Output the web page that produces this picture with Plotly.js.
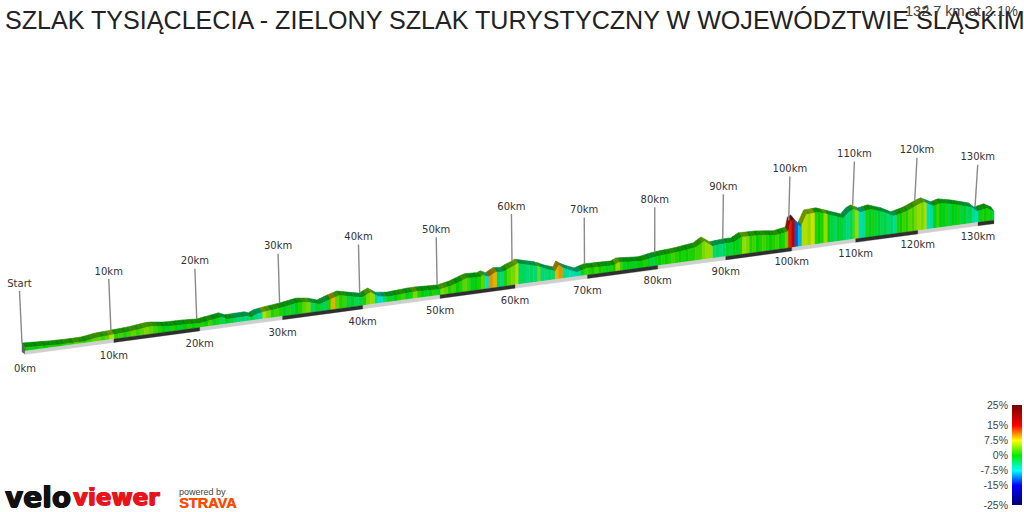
<!DOCTYPE html>
<html><head><meta charset="utf-8">
<script src="https://cdn.plot.ly/plotly-3.0.1.min.js"></script>
<style>html,body{margin:0;padding:0;background:#fff}#c{width:1024px;height:512px}</style>
</head><body><div id="c"></div>
<script>
const chartTitle = "SZLAK TYSIĄCLECIA - ZIELONY SZLAK TURYSTYCZNY W WOJEWÓDZTWIE ŚLĄSKIM";
const summary = "132.7 km at 2.1%";
const totalKm = 132.7;
const markerKm = [0,10,20,30,40,50,60,70,80,90,100,110,120,130];
const markerElev = [5,5.9,5.4,10.2,9.4,7,20.9,8.3,10,14.5,24,31,27,12.5];
// elevation profile (km along route, relative height)
const nodeKm = [0,2.9,4.8,6.7,8.1,10,11.9,14.2,16.2,18.2,20,22.6,23.3,25.7,26.2,26.8,28,30,32,33.4,34.6,35.9,37.1,38.4,39.9,41,42,43.4,46,47,50,51.4,53.6,55.3,55.7,56.4,57.4,58.4,59,60,60.3,63.2,64.3,65.6,66,66.7,68.5,69.9,73.7,74.4,77.6,79.9,82.8,85.6,86.8,88,90,91.2,92.3,95,97.6,99.5,99.8,100.3,100.9,101.4,102.3,104.2,106.8,108.1,108.9,109.7,110.8,112.4,114.5,116.1,118.2,120.2,121,122.6,123.8,125.9,128.9,129.8,131.5,132.7];
const nodeElev = [5,3.5,3,3,5,5.9,6.7,9,6.7,6.4,5.4,8.7,5.9,6.2,4.6,7,8.5,10.2,12.9,11.5,8.2,11.8,14.5,12.1,9.4,13.3,8.1,6.6,7.9,8,7,8.9,14.6,13.9,15.4,12.8,16.8,15.9,18.2,20.9,22.4,16.7,12.7,9.5,15,11.4,5.6,8.3,7.6,9.9,8,10.8,12.1,14.5,19.5,13.4,14.5,14.4,18.5,18,15.8,18,27.7,29.3,23.8,20.4,32.6,33,26.7,23.6,29,31.3,27.3,29,24.2,18.9,22.1,27.5,28.8,23.5,25.5,22.7,17.3,12.5,14.3,10.2];
// gradient (%) of each half-kilometre strip of the wall
const stripGrades = [
 0,0.5,0,1,0,0.5,1,0,1,2,1,3,2,1,2,3,3,2,3,6,
 1,2,1,2,3,2,3,4,3,2,1,0,-1,1,0,-1,0,1,0,1,
 1,0,2,-1,1,-3,0,-2,-3,-4,-3,-4,-2,-4,-5,6,4,1,2,1,
 -1,1,-2,0,1,3,4,-3,-1,-2,-3,1,9,3,1,2,-2,-1,-3,-2,
 1,4,5,-5,-7,-4,1,-2,0,1,2,-1,1,4,1,0,-1,0,1,-1,
 4,3,1,2,0,1,3,2,-1,0,1,3,-7,10,9,-3,-4,1,3,4,
 6,-3,-3,-4,-3,-4,4,-4,-4,-3,-4,9,10,-5,-5,-6,-5,-5,-1,2,
 1,0,2,0,1,-1,1,0,5,2,-1,0,-1,-1,0,0,1,-1,-2,-1,
 0,1,0,1,2,1,0,1,0,1,1,2,2,4,5,5,-4,-3,-4,-3,
 -1,-2,0,-1,1,5,4,1,2,0,1,2,1,0,1,2,0,1,3,14,
 18,-12,-9,6,6,5,7,1,0,1,5,-1,-2,-3,-1,-2,-3,-4,-3,3,
 5,-6,-5,1,-1,1,-2,-1,-3,-2,-4,-3,-5,1,0,2,1,3,2,4,
 5,4,6,-6,-5,-1,2,0,-1,1,-2,0,-1,1,-2,-1,-3,-2,-5,-6,
 -1,1,0,1,-1,-2];
const legendValues = [-25,-15,-7.5,0,7.5,15,25];
const legendColors = [[0,0,110],[0,0,255],[0,255,255],[0,235,0],[255,255,0],[255,0,0],[120,0,0]];
const legendLabels = ["-25%","-15%","-7.5%","0%","7.5%","15%","25%"];

// perspective projection of the route onto the page
const scaleAt = k => 1/(1+0.0018054*k);
const px = k => 25 + 9.0513*k*scaleAt(k);
const py = k => 351 - 0.135*(px(k)-25);
const elevAt = k => {
  let i = 0;
  while (i < nodeKm.length-2 && nodeKm[i+1] < k) i++;
  const t = (k-nodeKm[i])/(nodeKm[i+1]-nodeKm[i]);
  return nodeElev[i]+t*(nodeElev[i+1]-nodeElev[i]);
};
const colorOf = g => {
  let i = 0;
  while (i < legendValues.length-2 && legendValues[i+1] < g) i++;
  const t = (g-legendValues[i])/(legendValues[i+1]-legendValues[i]);
  return legendColors[i].map((c,j)=>c+t*(legendColors[i+1][j]-c));
};
const css = (c,f) => `rgb(${c.map(v=>Math.round(v*f)).join(",")})`;

const backX = 3, backY = 4.5, ribbonDrop = 1.5;
const wallTop = k => py(k)-Math.max(elevAt(k)-ribbonDrop,0.5);
const wallGroups = new Map(), ridgeGroups = new Map();
const push = (m,key,xs,ys) => {
  if(!m.has(key)) m.set(key,{x:[],y:[]});
  const g = m.get(key);
  g.x.push(...xs,xs[0],null); g.y.push(...ys,ys[0],null);
};
stripGrades.forEach((g,i)=>{
  const a = i*0.5, b = Math.min((i+1)*0.5,totalKm);
  const edges = [a,...nodeKm.filter(k=>k>a&&k<b),b];
  const c = colorOf(g);
  const tx = edges.map(px), ty = edges.map(wallTop);
  push(wallGroups,css(c,0.88),
    [px(a),px(b),...tx.slice().reverse()],
    [py(a),py(b),...ty.slice().reverse()]);
  const rc = c.map((v,j)=> j===1 ? v*0.58 : v*0.52);
  push(ridgeGroups,css(rc,1),
    [...tx,...tx.slice().reverse().map(x=>x-backX)],
    [...ty,...ty.slice().reverse().map(y=>y-backY)]);
});
const traces = [];
const addGroup = m => m.forEach((g,color)=>traces.push({type:"scatter",mode:"lines",x:g.x,y:g.y,fill:"toself",fillcolor:color,
  line:{color:color,width:0.6},hoverinfo:"skip",showlegend:false}));
addGroup(ridgeGroups);
addGroup(wallGroups);

// start cap
const capTop = wallTop(0);
traces.push({type:"scatter",mode:"lines",x:[px(0),px(0),px(0)-backX,px(0)-backX,px(0)],y:[capTop,py(0)+3,py(0)+1,capTop-backY,capTop],
  fill:"toself",fillcolor:"#566a56",line:{color:"#566a56",width:0.5},hoverinfo:"skip",showlegend:false});

// kilometre band
const band = {light:{x:[],y:[]},dark:{x:[],y:[]}};
const bandH = 3.5;
markerKm.forEach((k,i)=>{
  const e = Math.min(k+10,totalKm), t = i%2 ? band.dark : band.light;
  t.x.push(px(k),px(e),px(e),px(k),px(k),null);
  t.y.push(py(k),py(e),py(e)+bandH,py(k)+bandH,py(k),null);
});
traces.push({type:"scatter",mode:"lines",...band.light,fill:"toself",fillcolor:"#cfcfcf",line:{color:"#cfcfcf",width:0.3},hoverinfo:"skip",showlegend:false});
traces.push({type:"scatter",mode:"lines",...band.dark,fill:"toself",fillcolor:"#2e2e2e",line:{color:"#2e2e2e",width:0.3},hoverinfo:"skip",showlegend:false});

// poles and labels
const poles = {x:[],y:[]}, upper = {x:[],y:[],text:[]}, lower = {x:[],y:[],text:[]};
markerKm.forEach((k,i)=>{
  const bx = px(k)-backX, by = py(k)-markerElev[i]-3;
  const len = 52*scaleAt(k);
  const d = px(k)-654;
  const tx = bx+d*(d<0?0.004:0.0085), ty = by-len;
  poles.x.push(bx,tx,null); poles.y.push(by,ty,null);
  upper.x.push(tx); upper.y.push(ty-7); upper.text.push(k===0?"Start":k+"km");
  lower.x.push(px(k)); lower.y.push(py(k)+1+17*scaleAt(k)); lower.text.push(k+"km");
});
traces.push({type:"scatter",mode:"lines",x:poles.x,y:poles.y,line:{color:"#8a8a8a",width:1.4},hoverinfo:"skip",showlegend:false});
const labelFont = {family:"DejaVu Sans",size:10,color:"#333"};
traces.push({type:"scatter",mode:"text",...upper,textposition:"middle center",textfont:labelFont,hoverinfo:"skip",showlegend:false});
traces.push({type:"scatter",mode:"text",...lower,textposition:"middle center",textfont:labelFont,hoverinfo:"skip",showlegend:false});

// gradient legend
const span = legendValues[legendValues.length-1]-legendValues[0];
traces.push({type:"heatmap",xaxis:"x2",yaxis:"y2",x:[0,1],y:legendValues,z:legendValues.map(v=>[v,v]),zmin:-25,zmax:25,zsmooth:"best",showscale:false,hoverinfo:"skip",
  colorscale:legendValues.map((v,i)=>[(v-legendValues[0])/span,css(legendColors[i],1)])});

const layout = {
  width:1024,height:512,autosize:false,margin:{l:0,r:0,t:0,b:0},paper_bgcolor:"#fff",plot_bgcolor:"#fff",showlegend:false,
  title:{text:chartTitle,x:5/1024,xanchor:"left",y:1-20/512,yanchor:"middle",font:{family:"Liberation Sans",size:25.1,color:"#222"}},
  xaxis:{range:[0,1024],visible:false,fixedrange:true},
  yaxis:{range:[512,0],visible:false,fixedrange:true},
  xaxis2:{domain:[1012/1024,1022/1024],range:[0,1],visible:false,anchor:"y2"},
  yaxis2:{domain:[7/512,107/512],range:[-25,25],anchor:"x2",side:"left",tickmode:"array",tickvals:legendValues,ticktext:legendLabels,
    ticks:"",showgrid:false,zeroline:false,showline:false,ticklabelstandoff:3,tickfont:{family:"Liberation Sans",size:10.5,color:"#444"}},
  annotations:[
    {text:summary,xref:"x",yref:"y",x:1020,y:11,xanchor:"right",yanchor:"middle",showarrow:false,font:{family:"Liberation Sans",size:14.5,color:"#444"}},
    {text:"<b>velo</b>",xref:"x",yref:"y",x:3,y:497,xanchor:"left",yanchor:"middle",showarrow:false,font:{family:"DejaVu Sans",size:28,color:"#111",shadow:"0.7px 0 #111,-0.7px 0 #111,0 0.5px #111"}},
    {text:"<b>viewer</b>",xref:"x",yref:"y",x:71,y:497,xanchor:"left",yanchor:"middle",showarrow:false,font:{family:"DejaVu Sans",size:23,color:"#e8141c",shadow:"0.7px 0 #e8141c,-0.7px 0 #e8141c,0 0.5px #e8141c"}},
    {text:"powered by",xref:"x",yref:"y",x:177,y:492,xanchor:"left",yanchor:"middle",showarrow:false,font:{family:"Liberation Sans",size:9,color:"#444"}},
    {text:"<b>STRAVA</b>",xref:"x",yref:"y",x:177,y:503,xanchor:"left",yanchor:"middle",showarrow:false,font:{family:"Liberation Sans",size:14.5,color:"#fc4c02",shadow:"0.4px 0 #fc4c02"}}
  ]
};
Plotly.newPlot("c",traces,layout,{displayModeBar:false,staticPlot:true});
</script></body></html>
